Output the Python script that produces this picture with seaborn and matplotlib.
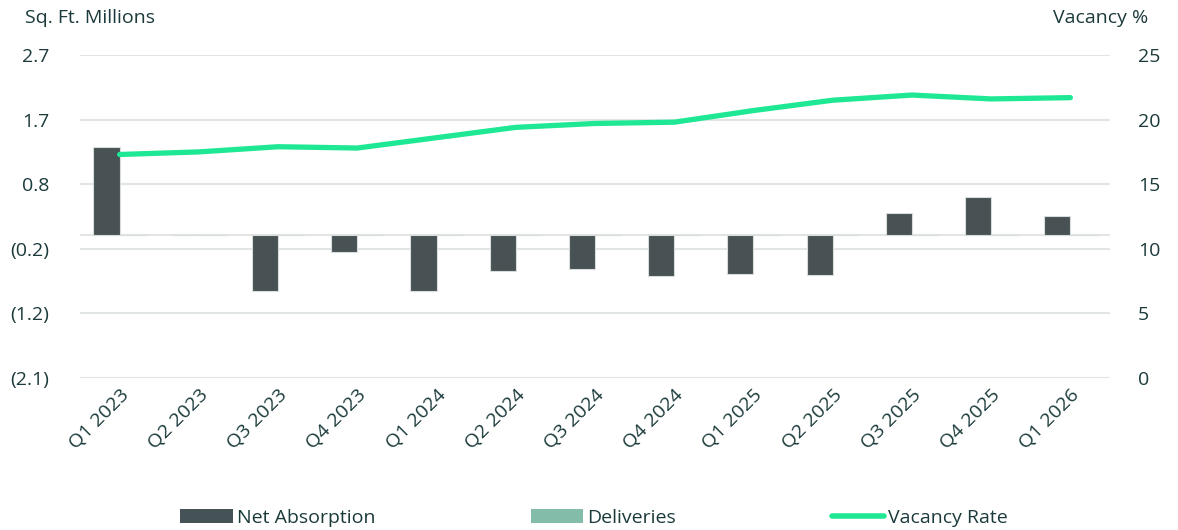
import matplotlib
matplotlib.use("Agg")
import matplotlib.pyplot as plt
import seaborn as sns
import pandas as pd
import numpy as np
from matplotlib.ticker import FixedLocator, FuncFormatter
from matplotlib.patches import Patch
from matplotlib.lines import Line2D

quarters = ["Q1 2023", "Q2 2023", "Q3 2023", "Q4 2023", "Q1 2024", "Q2 2024", "Q3 2024",
            "Q4 2024", "Q1 2025", "Q2 2025", "Q3 2025", "Q4 2025", "Q1 2026"]
net_absorption = [1.33, 0.0, -0.83, -0.25, -0.83, -0.53, -0.50, -0.61, -0.58, -0.59, 0.34, 0.58, 0.29]
deliveries = [0.0] * 13
vacancy = [17.3, 17.5, 17.9, 17.8, 18.6, 19.4, 19.7, 19.8, 20.7, 21.5, 21.9, 21.6, 21.7]
left_ticks = [-2.14, -1.17, -0.20, 0.77, 1.74, 2.71]
right_ticks = [0, 5, 10, 15, 20, 25]

BAR = "#465356"
DELIV = "#84bcaa"
LINE = "#1ee894"
GRID = "#e1e6e4"
TEXT = "#1b3a3b"
FS = 14

sns.set_theme(style="white")
plt.rcParams["font.family"] = ["Open Sans", "DejaVu Sans"]
plt.rcParams["text.color"] = TEXT

df = pd.DataFrame({
    "Quarter": quarters * 2,
    "Value": net_absorption + deliveries,
    "Series": ["Net Absorption"] * 13 + ["Deliveries"] * 13,
})

fig = plt.figure(figsize=(11.78, 5.30), dpi=100)
ax = fig.add_axes([80 / 1178, 1 - 378 / 530, 1030 / 1178, 323 / 530])

for t in left_ticks:
    ax.axhline(t, color=GRID, lw=1.5, zorder=0)
ax.axhline(0, color=GRID, lw=1.5, zorder=0)

sns.barplot(data=df, x="Quarter", y="Value", hue="Series", order=quarters,
            hue_order=["Net Absorption", "Deliveries"],
            palette={"Net Absorption": BAR, "Deliveries": DELIV},
            width=0.66, dodge=True, ax=ax, legend=False,
            edgecolor="#d8dcdb", linewidth=0.8, zorder=2)

ax.set_xlim(-0.5, len(quarters) - 0.5)
ax.set_ylim(left_ticks[0], left_ticks[-1])
ax.yaxis.set_major_locator(FixedLocator(left_ticks))


def fmt(v, pos):
    if v < -0.001:
        return f"({abs(v):.1f})"
    return f"{v:.1f}"


ax.yaxis.set_major_formatter(FuncFormatter(fmt))
ax.set_xlabel("")
ax.set_ylabel("")
ax.tick_params(axis="y", length=0, pad=22, labelsize=FS, labelcolor=TEXT)
ax.tick_params(axis="x", length=0, pad=6, labelsize=FS, labelcolor=TEXT)
plt.setp(ax.get_xticklabels(), rotation=45, ha="right", rotation_mode="anchor")
for s in ax.spines.values():
    s.set_visible(False)
ax.patch.set_alpha(0)

ax2 = ax.twinx()
sns.lineplot(x=np.arange(len(quarters)), y=vacancy, ax=ax2, color=LINE, lw=3.8,
             solid_capstyle="round", zorder=3)
ax2.set_ylim(0, 25)
ax2.yaxis.set_major_locator(FixedLocator(right_ticks))
ax2.tick_params(axis="y", length=0, pad=20, labelsize=FS, labelcolor=TEXT)
ax2.set_ylabel("")
ax2.grid(False)
for s in ax2.spines.values():
    s.set_visible(False)

fig.text(25 / 1178, 1 - 18 / 530, "Sq. Ft. Millions", fontsize=FS, color=TEXT, va="center", ha="left")
fig.text(1148 / 1178, 1 - 18 / 530, "Vacancy %", fontsize=FS, color=TEXT, va="center", ha="right")

handles = [Patch(facecolor=BAR, edgecolor="none"),
           Patch(facecolor=DELIV, edgecolor="none"),
           Line2D([0], [0], color=LINE, lw=4, solid_capstyle="round")]
fig.legend(handles, ["Net Absorption", "Deliveries", "Vacancy Rate"], ncol=3,
           loc="center", bbox_to_anchor=(594 / 1178, 1 - 518 / 530), frameon=False,
           fontsize=FS, handlelength=2.7, handleheight=0.75, handletextpad=0.2,
           columnspacing=8.0, labelcolor=TEXT)

fig.savefig("out.png", dpi=100)
